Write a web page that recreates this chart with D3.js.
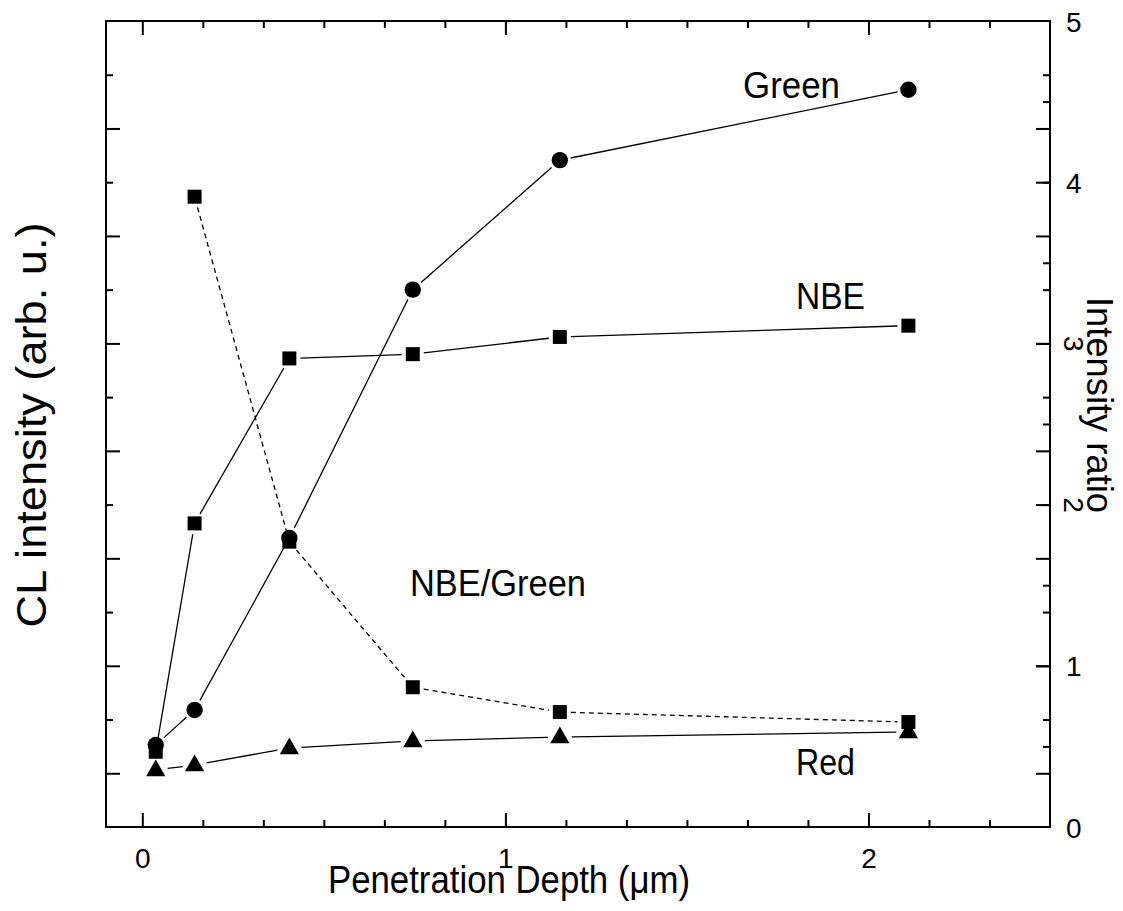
<!DOCTYPE html>
<html><head><meta charset="utf-8">
<script src="https://cdn.jsdelivr.net/npm/d3@7"></script>
<style>
body{margin:0;background:#fff}
svg text{font-family:"Liberation Sans",Arial,Helvetica,sans-serif;fill:#000}
</style>
</head><body>
<svg id="chart" width="1123" height="911"></svg>
<script>
// ---- data ----
const depth      = [0.037, 0.144, 0.405, 0.745, 1.15, 2.11];   // µm
const nbe        = [0.40, 4.65, 7.72, 7.80, 8.12, 8.33];       // CL intensity (arb. u.)
const green      = [0.526, 1.178, 4.38, 9.0, 11.41, 12.72];
const red        = [0.061, 0.154, 0.47, 0.60, 0.675, 0.768];
const ratioDepth = [0.144, 0.405, 0.745, 1.15, 2.11];
const ratio      = [3.91, 1.77, 0.867, 0.713, 0.651];           // NBE/Green intensity ratio
const xTicks      = [0, 1, 2];
const xTickLabels = ["0", "1", "2"];
const rTicks      = [0, 1, 2, 3, 4, 5];
const rTickLabels = ["0", "1", "2", "3", "4", "5"];
const seriesLabels = ["Green", "NBE", "NBE/Green", "Red"];
const xTitle = "Penetration Depth (\u03bcm)";
const yLeftTitle = "CL intensity (arb. u.)";
const yRightTitle = "Intensity ratio";

// ---- layout ----
const L = 106, R = 1050, T = 21, B = 827;
const svg = d3.select("#chart");
const x  = d3.scaleLinear().domain([-0.1, 2.5]).range([L, R]);
const yL = d3.scaleLinear().domain([-1, 14]).range([B, T]);
const yR = d3.scaleLinear().domain([0, 5]).range([B, T]);

const xMinor = d3.range(1, 15).filter(k => k % 6 !== 0).map(k => k / 6);
const lMajor = d3.range(0, 13, 2);
const lMinor = d3.range(1, 14, 2);
const rMinor = d3.range(0.5, 5, 1);

function styleAxis(g) {
  g.select(".domain").remove();
  g.selectAll(".tick line").attr("stroke", "#000").attr("stroke-width", 2);
  g.selectAll("text").attr("font-size", 28).attr("font-family", '"Liberation Sans",Arial,sans-serif').attr("fill", "#000");
}
// bottom
svg.append("g").attr("transform", `translate(0,${B})`)
  .call(d3.axisBottom(x).tickValues(xTicks).tickSize(-14).tickSizeOuter(0).tickPadding(21)
        .tickFormat((d, i) => xTickLabels[i])).call(styleAxis);
svg.append("g").attr("transform", `translate(0,${B})`)
  .call(d3.axisBottom(x).tickValues(xMinor).tickSize(-7).tickSizeOuter(0).tickFormat("")).call(styleAxis);
// top (mirror)
svg.append("g").attr("transform", `translate(0,${T})`)
  .call(d3.axisTop(x).tickValues(xTicks).tickSize(-14).tickSizeOuter(0).tickFormat("")).call(styleAxis);
svg.append("g").attr("transform", `translate(0,${T})`)
  .call(d3.axisTop(x).tickValues(xMinor).tickSize(-7).tickSizeOuter(0).tickFormat("")).call(styleAxis);
// left (no labels)
svg.append("g").attr("transform", `translate(${L},0)`)
  .call(d3.axisLeft(yL).tickValues(lMajor).tickSize(-14).tickSizeOuter(0).tickFormat("")).call(styleAxis);
svg.append("g").attr("transform", `translate(${L},0)`)
  .call(d3.axisLeft(yL).tickValues(lMinor).tickSize(-7).tickSizeOuter(0).tickFormat("")).call(styleAxis);
// right: mirrored left ticks
svg.append("g").attr("transform", `translate(${R},0)`)
  .call(d3.axisRight(yL).tickValues(lMajor).tickSize(-14).tickSizeOuter(0).tickFormat("")).call(styleAxis);
svg.append("g").attr("transform", `translate(${R},0)`)
  .call(d3.axisRight(yL).tickValues(lMinor).tickSize(-7).tickSizeOuter(0).tickFormat("")).call(styleAxis);
// right ratio axis
const rAx = svg.append("g").attr("transform", `translate(${R},0)`)
  .call(d3.axisRight(yR).tickValues(rTicks).tickSize(-14).tickSizeOuter(0).tickPadding(16)
        .tickFormat((d, i) => rTickLabels[i])).call(styleAxis);
rAx.selectAll(".tick").filter(d => d === 0 || d === 5).select("line").remove();
rAx.selectAll(".tick text").attr("dy", "0.36em");
rAx.selectAll(".tick text").filter(d => d === 2 || d === 3)
  .attr("text-anchor", "middle").attr("x", 24).attr("dy", "0.36em")
  .attr("transform", "rotate(90,24,0)");
svg.append("g").attr("transform", `translate(${R},0)`)
  .call(d3.axisRight(yR).tickValues(rMinor).tickSize(-7).tickSizeOuter(0).tickFormat("")).call(styleAxis);

// frame
svg.append("rect").attr("x", L).attr("y", T).attr("width", R - L).attr("height", B - T)
  .attr("fill", "none").attr("stroke", "#000").attr("stroke-width", 2);

// ---- series ----
const plot = svg.append("g");
function connect(xs, ys, ys_scale, gap, dash) {
  for (let i = 0; i < xs.length - 1; i++) {
    const x0 = x(xs[i]), y0 = ys_scale(ys[i]), x1 = x(xs[i + 1]), y1 = ys_scale(ys[i + 1]);
    const dx = x1 - x0, dy = y1 - y0, len = Math.hypot(dx, dy);
    if (len <= 2 * gap) continue;
    const ux = dx / len, uy = dy / len;
    plot.append("line")
      .attr("x1", x0 + ux * gap).attr("y1", y0 + uy * gap)
      .attr("x2", x1 - ux * gap).attr("y2", y1 - uy * gap)
      .attr("stroke", "#000").attr("stroke-width", 1.3)
      .attr("stroke-dasharray", dash || null);
  }
}
connect(depth, red, yL, 12);
connect(depth, green, yL, 11);
connect(depth, nbe, yL, 11);
connect(ratioDepth, ratio, yR, 11, "5,4");

const sq = d3.symbol().type(d3.symbolSquare).size(196);
const ci = d3.symbol().type(d3.symbolCircle).size(Math.PI * 8.2 * 8.2);
const triPath = "M0,-10.5L9.6,6.2L-9.6,6.2Z";

plot.selectAll(".nbe").data(depth).enter().append("path")
  .attr("d", sq).attr("transform", (d, i) => `translate(${x(d)},${yL(nbe[i])})`).attr("fill", "#000");
plot.selectAll(".ratio").data(ratioDepth).enter().append("path")
  .attr("d", sq).attr("transform", (d, i) => `translate(${x(d)},${yR(ratio[i])})`).attr("fill", "#000");
plot.selectAll(".green").data(depth).enter().append("path")
  .attr("d", ci).attr("transform", (d, i) => `translate(${x(d)},${yL(green[i])})`).attr("fill", "#000");
plot.selectAll(".red").data(depth).enter().append("path")
  .attr("d", triPath).attr("transform", (d, i) => `translate(${x(d)},${yL(red[i])})`).attr("fill", "#000");

// ---- annotations ----
function label(txt, px, py, len) {
  svg.append("text").attr("x", px).attr("y", py).attr("font-size", 37)
    .attr("textLength", len).attr("lengthAdjust", "spacingAndGlyphs").text(txt);
}
label(seriesLabels[0], 743, 98, 97);
label(seriesLabels[1], 796, 309, 69);
label(seriesLabels[2], 410, 596, 176);
label(seriesLabels[3], 796, 775, 59);

// ---- axis titles ----
svg.append("text").attr("x", 328).attr("y", 893).attr("font-size", 38)
  .attr("textLength", 362).attr("lengthAdjust", "spacingAndGlyphs").text(xTitle);
svg.append("text").attr("transform", "translate(46,425) rotate(-90)")
  .attr("text-anchor", "middle").attr("font-size", 43)
  .attr("textLength", 405).attr("lengthAdjust", "spacingAndGlyphs").text(yLeftTitle);
svg.append("text").attr("transform", "translate(1087,405) rotate(90)")
  .attr("text-anchor", "middle").attr("font-size", 36)
  .attr("textLength", 216).attr("lengthAdjust", "spacingAndGlyphs").text(yRightTitle);
</script>
</body></html>
